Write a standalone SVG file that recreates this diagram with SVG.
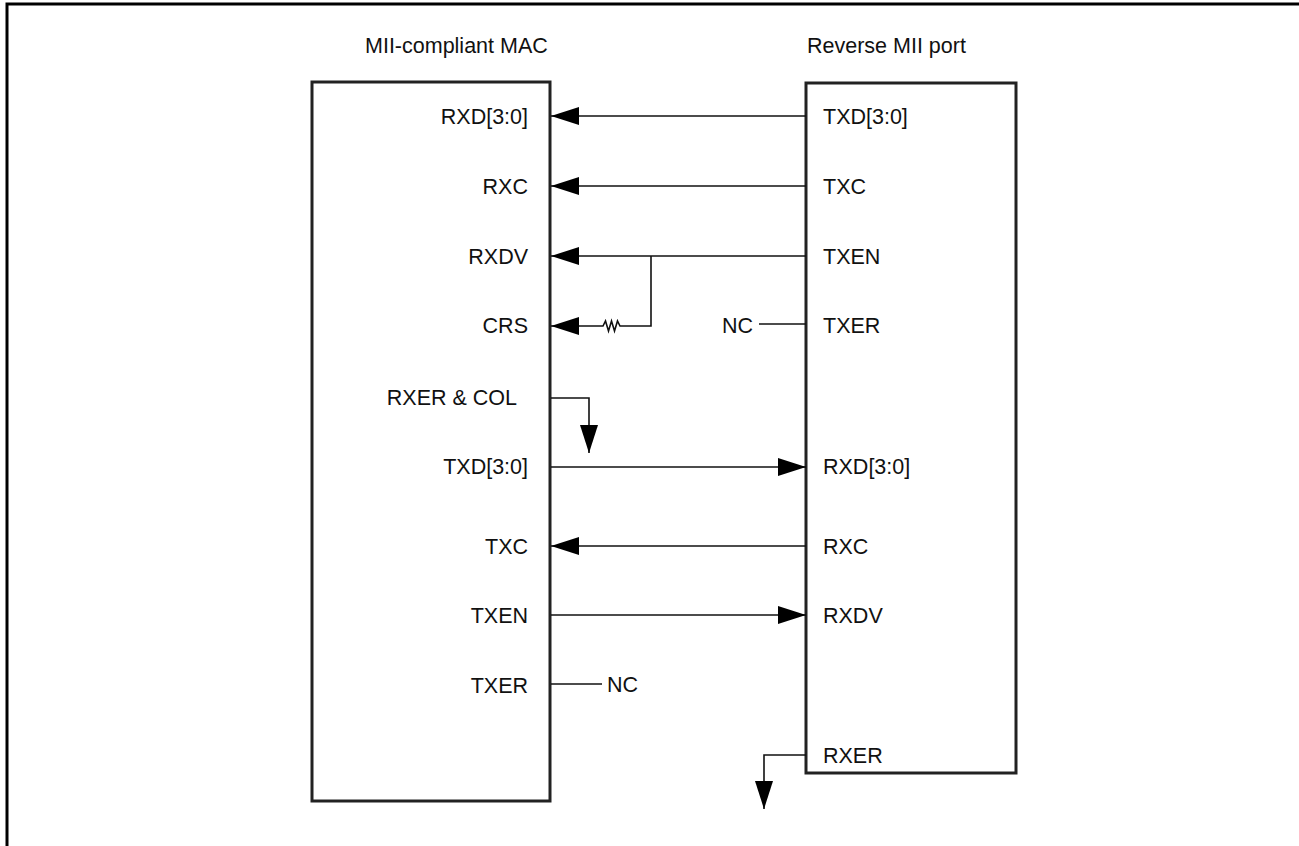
<svg xmlns="http://www.w3.org/2000/svg" width="1299" height="846" viewBox="0 0 1299 846">
<defs>
<marker id="ah" viewBox="0 0 28 18" refX="28" refY="9" markerWidth="28" markerHeight="18" markerUnits="userSpaceOnUse" orient="auto">
<path d="M0,0 L28,9 L0,18 Z" fill="#000"/>
</marker>
</defs>
<style>
text{font-family:"Liberation Sans",Arial,sans-serif;font-size:21.5px;fill:#111}
.r{text-anchor:end}
.box{fill:#fff;stroke:#222;stroke-width:3}
.w{fill:none;stroke:#111;stroke-width:1.6}
.a{marker-end:url(#ah)}
</style>
<rect width="1299" height="846" fill="#fff"/>
<path d="M7,846 V4 H1299" fill="none" stroke="#000" stroke-width="3"/>
<g id="mac">
<rect class="box" x="312" y="82" width="238" height="719"/>
<text x="365" y="53">MII-compliant MAC</text>
<text class="r" x="528" y="123.5">RXD[3:0]</text>
<text class="r" x="528" y="193.5">RXC</text>
<text class="r" x="528" y="263.5">RXDV</text>
<text class="r" x="528" y="333">CRS</text>
<text class="r" x="517" y="405">RXER &amp; COL</text>
<text class="r" x="528" y="474">TXD[3:0]</text>
<text class="r" x="528" y="553.5">TXC</text>
<text class="r" x="528" y="622.5">TXEN</text>
<text class="r" x="528" y="692.5">TXER</text>
</g>
<g id="rmii">
<rect class="box" x="806" y="83" width="210" height="690"/>
<text x="807" y="53">Reverse MII port</text>
<text x="823" y="123.5">TXD[3:0]</text>
<text x="823" y="193.5">TXC</text>
<text x="823" y="263.5">TXEN</text>
<text x="823" y="333">TXER</text>
<text x="823" y="474">RXD[3:0]</text>
<text x="823" y="553.5">RXC</text>
<text x="823" y="622.5">RXDV</text>
<text x="823" y="762.5">RXER</text>
</g>
<g id="connectors">
<path class="w a" d="M806,116 H551"/>
<path class="w a" d="M806,186 H551"/>
<path class="w a" d="M806,256 H551"/>
<path class="w a" d="M651,256 V326 H620 L617.5,321 L614.5,331 L611.5,321 L608.5,331 L605.5,321 L603,326 H551"/>
<path class="w" d="M759,324 H806"/>
<text x="722" y="333">NC</text>
<path class="w a" d="M551,398 H589 V453"/>
<path class="w a" d="M551,467 H806"/>
<path class="w a" d="M806,546 H551"/>
<path class="w a" d="M551,615 H806"/>
<path class="w" d="M551,684 H602"/>
<text x="607" y="692">NC</text>
<path class="w a" d="M806,755 H764 V809"/>
</g>
</svg>
